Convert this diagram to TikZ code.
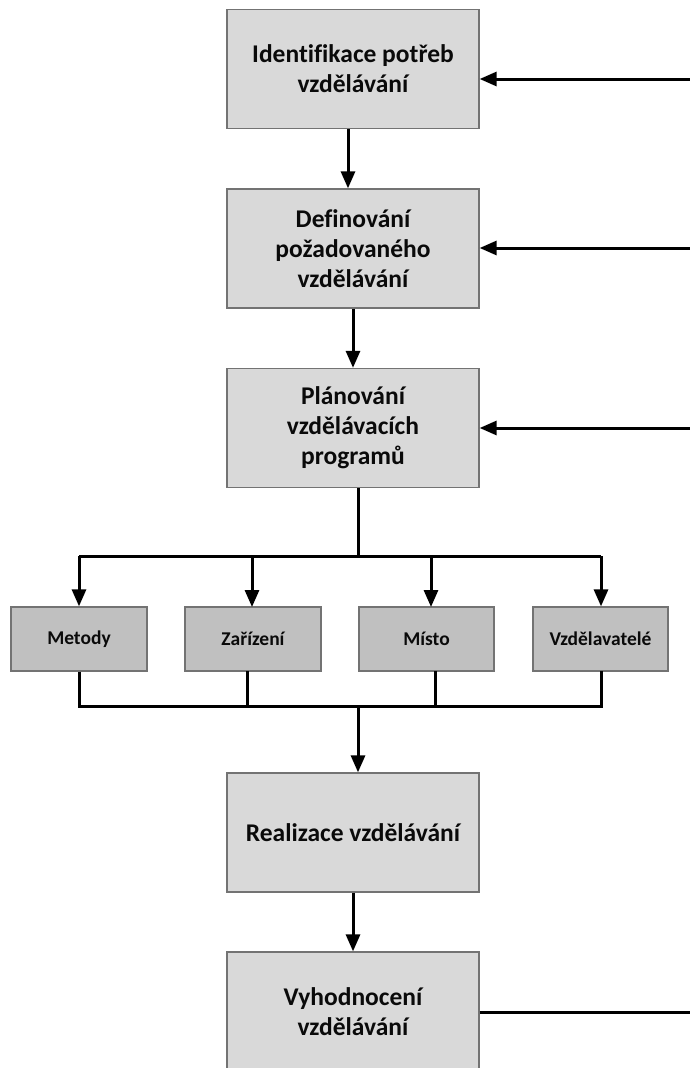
\documentclass[tikz,border=0pt]{standalone}
\usepackage{fontspec}
\setmainfont{Carlito}[Ligatures=NoCommon]
\usetikzlibrary{arrows.meta}
\definecolor{boxborder}{RGB}{115,115,115}
\definecolor{bigfill}{RGB}{217,217,217}
\definecolor{smallfill}{RGB}{192,192,192}
\definecolor{txt}{RGB}{10,10,10}
\begin{document}
\begin{tikzpicture}[x=1pt,y=-1pt,
  bigbox/.style={draw=boxborder,line width=1.3pt,fill=bigfill,minimum width=252pt,minimum height=119pt,inner sep=0pt,align=center,text=txt,font=\fontsize{25.5}{30}\selectfont\bfseries},
  smallbox/.style={draw=boxborder,line width=1.3pt,fill=smallfill,minimum width=136pt,minimum height=64pt,inner sep=0pt,align=center,text=txt,font=\fontsize{19.5}{23}\selectfont\bfseries},
  conn/.style={line width=3pt,draw=black,line join=miter},
  arr/.style={conn,-{Triangle[length=17pt,width=14pt]}}]
\useasboundingbox (0,0) rectangle (690,1068);
\clip (0,0) rectangle (690,1068);
% main boxes
\node[bigbox] (id) at (353,69) {Identifikace potřeb\\vzdělávání};
\node[bigbox] (def) at (353,248.5) {Definování\\požadovaného\\vzdělávání};
\node[bigbox] (plan) at (353,428) {Plánování\\vzdělávacích\\programů};
\node[bigbox] (real) at (353,832.5) {Realizace vzdělávání};
\node[bigbox,minimum height=120pt] (vyh) at (353,1012) {Vyhodnocení\\vzdělávání};
% small boxes
\node[smallbox] (met) at (79,639) {Metody};
\node[smallbox] (zar) at (253,639) {Zařízení};
\node[smallbox,minimum width=135pt] (mis) at (426.5,639) {Místo};
\node[smallbox,minimum width=135pt] (vzd) at (600.5,639) {Vzdělavatelé};
% right feedback lines
\coordinate (r1) at (690,79);
\coordinate (r2) at (690,248);
\coordinate (r3) at (690,428);
\coordinate (r4) at (690,1012);
\draw[arr] (r1) -- (r1 -| id.east);
\draw[arr] (r2) -- (r2 -| def.east);
\draw[arr] (r3) -- (r3 -| plan.east);
\draw[conn] (vyh.east) -- (r4);
% main flow
\draw[arr] ([xshift=-5pt]id.south) -- ([xshift=-5pt]def.north);
\draw[arr] (def.south) -- (plan.north);
\coordinate (bt) at (358,556);
\coordinate (btl) at (79,556);
\coordinate (btr) at (601,556);
\draw[conn] ([xshift=5pt]plan.south) -- (bt);
\draw[conn] (btl) -- (btr);
\draw[arr] (btl) -- (met.north);
\draw[arr] (252,556) -- (252,607);
\draw[arr] (431,556) -- (431,607);
\draw[arr] (btr) -- (vzd.north -| btr);
% lower bus
\coordinate (bb) at (358,706);
\draw[conn] (met.south) -- (79,706) -- (601,706) -- (601,671);
\draw[conn] (247,671) -- (247,706);
\draw[conn] (435,671) -- (435,706);
\draw[arr] (bb) -- ([xshift=5pt]real.north);
\draw[arr] (real.south) -- (vyh.north);
\end{tikzpicture}
\end{document}
